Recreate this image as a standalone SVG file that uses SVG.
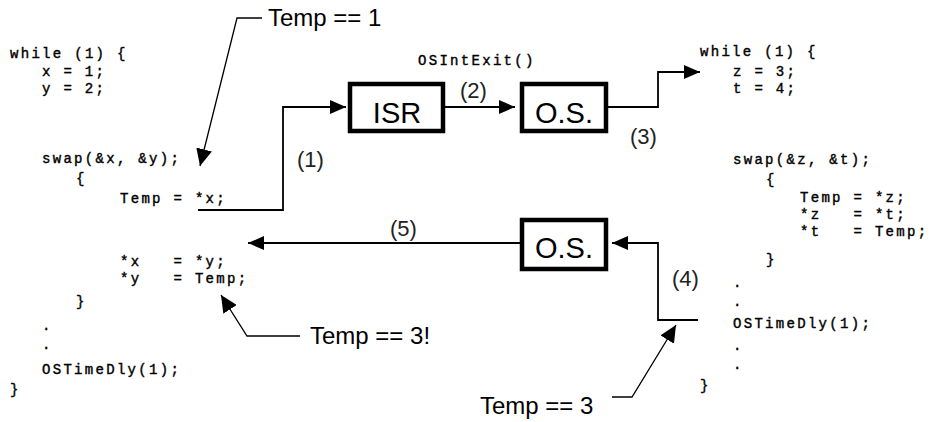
<svg xmlns="http://www.w3.org/2000/svg" width="931" height="422" viewBox="0 0 931 422">
<style>
.code{font-family:"Liberation Mono","Courier New",monospace;font-size:14px;letter-spacing:2.3px;fill:#000;white-space:pre;stroke:#000;stroke-width:0.4}
.box{fill:#fff;stroke:#000;stroke-width:4.5}
.bl{font-family:"Liberation Sans",Arial,sans-serif;font-size:29px;text-anchor:middle;fill:#000}
.lab{font-family:"Liberation Sans",Arial,sans-serif;font-size:22px;fill:#222}
.note{font-family:"Liberation Sans",Arial,sans-serif;font-size:24px;fill:#000}
.con{fill:none;stroke:#000;stroke-width:1.8;marker-end:url(#ah)}
.lead{fill:none;stroke:#000;stroke-width:1.3;marker-end:url(#lh)}
</style>
<defs>
<marker id="ah" markerWidth="16" markerHeight="14" refX="16" refY="7" orient="auto" markerUnits="userSpaceOnUse"><path d="M0,0 L16,7 L0,14 Z" fill="#000"/></marker>
<marker id="lh" markerWidth="17" markerHeight="16" refX="17" refY="8" orient="auto" markerUnits="userSpaceOnUse"><path d="M0,0 L17,8 L0,16 Z" fill="#000"/></marker>
</defs>
<rect width="931" height="422" fill="#fff"/>

<g id="code-left">
<text class="code" x="10" y="58">while (1) {</text>
<text class="code" x="42" y="76">x = 1;</text>
<text class="code" x="42" y="93">y = 2;</text>
<text class="code" x="42" y="163">swap(&amp;x, &amp;y);</text>
<text class="code" x="76" y="183">{</text>
<text class="code" x="120" y="203">Temp = *x;</text>
<text class="code" x="120" y="266">*x   = *y;</text>
<text class="code" x="120" y="283">*y   = Temp;</text>
<text class="code" x="76" y="306">}</text>
<text class="code" x="42" y="330">.</text>
<text class="code" x="42" y="349">.</text>
<text class="code" x="42" y="374">OSTimeDly(1);</text>
<text class="code" x="10" y="394">}</text>
</g>

<g id="code-right">
<text class="code" x="700" y="56">while (1) {</text>
<text class="code" x="733" y="76">z = 3;</text>
<text class="code" x="733" y="93">t = 4;</text>
<text class="code" x="733" y="164">swap(&amp;z, &amp;t);</text>
<text class="code" x="766" y="184">{</text>
<text class="code" x="800" y="202">Temp = *z;</text>
<text class="code" x="800" y="219">*z   = *t;</text>
<text class="code" x="800" y="236">*t   = Temp;</text>
<text class="code" x="766" y="264">}</text>
<text class="code" x="733" y="287">.</text>
<text class="code" x="733" y="306">.</text>
<text class="code" x="733" y="328">OSTimeDly(1);</text>
<text class="code" x="733" y="350">.</text>
<text class="code" x="733" y="369">.</text>
<text class="code" x="700" y="390">}</text>
</g>

<g id="isr">
<rect class="box" x="350" y="84" width="93" height="47"/>
<text class="bl" x="397" y="123">ISR</text>
</g>
<g id="os-top">
<rect class="box" x="522" y="84" width="84" height="47"/>
<text class="bl" x="564" y="123">O.S.</text>
</g>
<g id="os-bottom">
<rect class="box" x="522" y="220" width="84" height="49"/>
<text class="bl" x="564" y="258">O.S.</text>
</g>

<g id="connectors">
<polyline class="con" points="198,210 283,210 283,107 346,107"/>
<polyline class="con" points="445,107 515,107"/>
<polyline class="con" points="608,107 658,107 658,72 700,72"/>
<polyline class="con" points="520,243 248,243"/>
<polyline class="con" points="698,320 658,320 658,243 612,243"/>
<polyline class="lead" points="262,18 237,18 200,166"/>
<polyline class="lead" points="300,336 247,336 221,295"/>
<polyline class="lead" points="612,397 632,397 676,325"/>
</g>

<g id="labels">
<text class="code" x="418" y="65">OSIntExit()</text>
<text class="lab" x="297" y="167">(1)</text>
<text class="lab" x="460" y="98">(2)</text>
<text class="lab" x="630" y="144">(3)</text>
<text class="lab" x="672" y="286">(4)</text>
<text class="lab" x="390" y="236">(5)</text>
<text class="note" x="268" y="26">Temp == 1</text>
<text class="note" x="310" y="344">Temp == 3!</text>
<text class="note" x="480" y="414">Temp == 3</text>
</g>
</svg>
